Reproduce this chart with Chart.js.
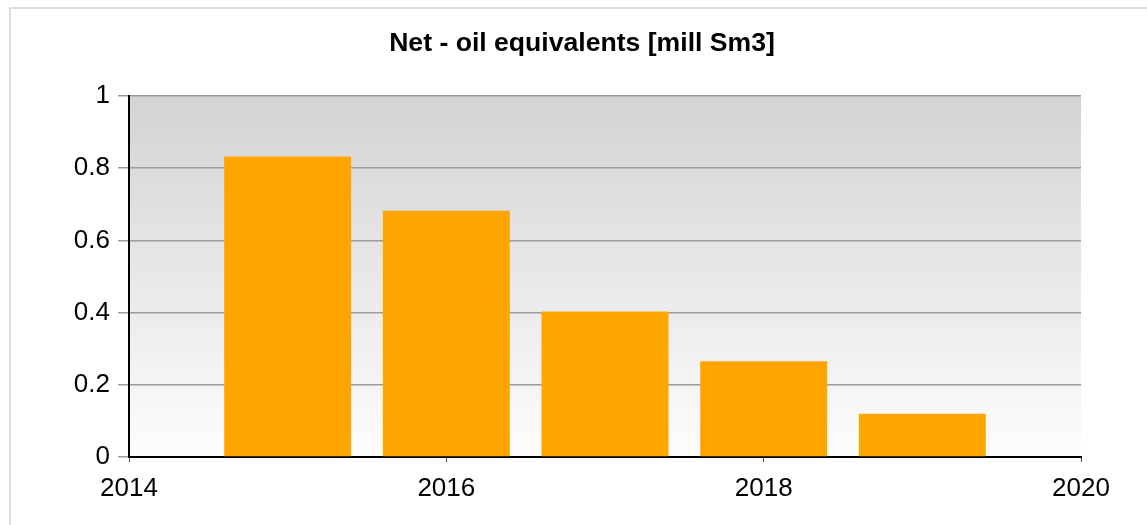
<!DOCTYPE html>
<html>
<head>
<meta charset="utf-8">
<script src="https://cdn.jsdelivr.net/npm/chart.js@4/dist/chart.umd.min.js"></script>
<style>
	body { margin: 0; overflow: hidden; background: #fff; width: 1147px; height: 525px; }
	#frame { position: absolute; left: 9px; top: 7px; width: 1160px; height: 540px; border: 2px solid #dcdcdc; }
	#wrap { position: absolute; left: 12px; top: 10px; width: 1140px; height: 520px; }
</style>
</head>
<body>
<div id="frame"></div>
<div id="wrap"><canvas id="bar-chartcanvas" width="1140" height="520"></canvas></div>
<script>
var years = [2015, 2016, 2017, 2018, 2019];
var netOilEq = [0.832, 0.682, 0.403, 0.265, 0.12];
var chartTitle = "Net - oil equivalents [mill Sm3]";

var points = years.map(function(y, i) { return { x : y, y : netOilEq[i] }; });

// grey-to-white backdrop behind the plot
var plotBackground = {
	id : "plotBackground",
	beforeDraw : function(chart) {
		var a = chart.chartArea;
		var c = chart.ctx;
		var g = c.createLinearGradient(0, a.top, 0, a.bottom);
		g.addColorStop(0, "#d3d3d3");
		g.addColorStop(1, "#fdfdfd");
		c.save();
		c.fillStyle = g;
		c.fillRect(a.left, a.top, a.right - a.left, a.bottom - a.top);
		c.restore();
	}
};

var ctx = document.getElementById("bar-chartcanvas");

var chart = new Chart(ctx, {
	type : "bar",
	data : {
		datasets : [
			{
				data : points,
				backgroundColor : "#ffa500",
				borderWidth : 0,
				categoryPercentage : 0.8,
				barPercentage : 1
			}
		]
	},
	options : {
		responsive : false,
		animation : false,
		layout : { padding : 0 },
		plugins : {
			legend : { display : false },
			tooltip : { enabled : false },
			title : {
				display : true,
				text : chartTitle,
				color : "#000",
				font : { family : "Liberation Sans, Arial", size : 26.6, weight : "bold" },
				padding : { top : 18, bottom : 36 }
			}
		},
		scales : {
			x : {
				type : "linear",
				min : 2014,
				max : 2020,
				offset : false,
				ticks : {
					stepSize : 2,
					color : "#000",
					padding : 11,
					font : { family : "Liberation Sans, Arial", size : 26 },
					callback : function(v) { return String(v); }
				},
				grid : { offset : false, drawOnChartArea : false, tickLength : 5, color : "#555" },
				border : { color : "#000", width : 2 },
				afterFit : function(s) { s.height = 73; }
			},
			y : {
				min : 0,
				max : 1,
				ticks : {
					stepSize : 0.2,
					color : "#000",
					padding : 8,
					font : { family : "Liberation Sans, Arial", size : 26 },
					callback : function(v) { return String(Math.round(v * 10) / 10); }
				},
				grid : { color : "#9c9c9c", lineWidth : 1.5, tickLength : 11 },
				border : { color : "#000", width : 2 },
				afterFit : function(s) { s.width = 117; }
			},
			// empty spacer on the right so the title stays centred on the canvas
			spacer : {
				position : "right",
				min : 0,
				max : 1,
				ticks : { display : false },
				grid : { display : false },
				border : { display : false },
				afterFit : function(s) { s.width = 71; }
			}
		}
	},
	plugins : [plotBackground]
});
</script>
</body>
</html>
